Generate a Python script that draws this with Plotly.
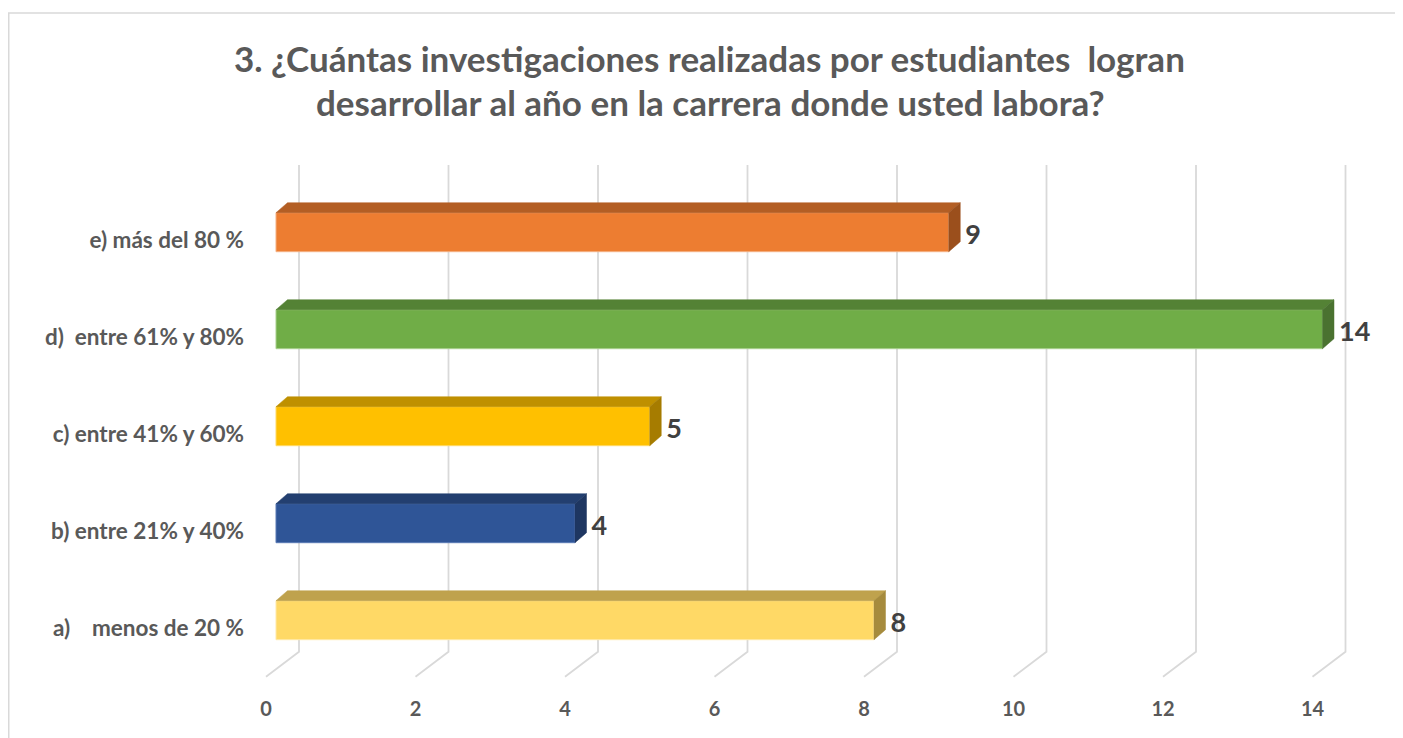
import plotly.graph_objects as go

# ---------------- data ----------------
categories = ["a)\u00a0\u00a0\u00a0\u00a0menos de 20 %", "b) entre 21% y 40%", "c) entre 41% y 60%",
              "d)\u00a0\u00a0entre 61% y 80%", "e) más del 80 %"]
values = [8, 4, 5, 14, 9]
x_ticks = [0, 2, 4, 6, 8, 10, 12, 14]
title_lines = ["3. ¿Cuántas investigaciones realizadas por estudiantes\u00a0\u00a0logran",
               "desarrollar al año en la carrera donde usted labora?"]

front_colors = ["#FFD966", "#2F5597", "#FFC000", "#70AD47", "#ED7D31"]
top_colors = ["#BFA24D", "#233F70", "#BF9000", "#548235", "#B35E24"]
side_colors = ["#A68B3D", "#1E3661", "#A67C00", "#4A7230", "#9B4F1C"]
edge_colors = ["#FFE9A8", "#5A7BB5", "#FFD966", "#A9D08E", "#F4B183"]

# ---------------- geometry ----------------
OFF = 8                      # page body margin
W, H = 1403 - OFF, 738 - OFF
PX_X = 74.75                 # px per x unit
PX_Y = 97.0                  # px per category
X0_PX = 276                  # screen px of x = 0 (front face)
Y0_PX = 620.2                # screen px of first category centre
X_RANGE = [-0.2, 15]
Y_RANGE = [-0.62, 4.72]


def rx(px):
    return (px - OFF) / W


def ry(py):
    return 1 - (py - OFF) / H


BAR_W = 0.402
DX = 11.5 / PX_X
DY = 10.0 / PX_Y
BACK_DX = 23 / PX_X
FRONT_DX = -10 / PX_X
GRID_TOP = (Y0_PX - 165) / PX_Y
FLOOR_BACK = (Y0_PX - 651.7) / PX_Y
FLOOR_FRONT = (Y0_PX - 676.7) / PX_Y
LABEL_GAP = 5 / PX_X
LABEL_DROP = 5 / PX_Y

x_left_px = X0_PX + X_RANGE[0] * PX_X
x_right_px = X0_PX + X_RANGE[1] * PX_X
y_bottom_px = Y0_PX - Y_RANGE[0] * PX_Y
y_top_px = Y0_PX - Y_RANGE[1] * PX_Y

FONT = "Lato"
fig = go.Figure()

# gridlines (back wall + floor) on the base subplot
gx, gy = [], []
for t in x_ticks:
    gx += [t + BACK_DX, t + BACK_DX, t + FRONT_DX, None]
    gy += [GRID_TOP, FLOOR_BACK, FLOOR_FRONT, None]
fig.add_trace(go.Scatter(x=gx, y=gy, mode="lines", line=dict(color="#D9D9D9", width=1.8),
                         hoverinfo="skip", xaxis="x", yaxis="y"))

ypos = list(range(len(categories)))

# front faces (overlay subplot, drawn above gridlines)
fig.add_trace(go.Bar(x=values, y=ypos, orientation="h", width=BAR_W, base=0,
                     marker=dict(color=front_colors, line=dict(color=edge_colors, width=1)),
                     hoverinfo="skip", xaxis="x2", yaxis="y2"))

# top and side faces
for i, v in enumerate(values):
    yt = i + BAR_W / 2
    yb = i - BAR_W / 2
    fig.add_trace(go.Scatter(x=[0, DX, v + DX, v, 0], y=[yt, yt + DY, yt + DY, yt, yt],
                             mode="lines", fill="toself", fillcolor=top_colors[i],
                             line=dict(width=0.5, color=top_colors[i]), hoverinfo="skip",
                             xaxis="x2", yaxis="y2"))
    fig.add_trace(go.Scatter(x=[v, v, v + DX, v + DX, v], y=[yb, yt, yt + DY, yb + DY, yb],
                             mode="lines", fill="toself", fillcolor=side_colors[i],
                             line=dict(width=0.5, color=side_colors[i]), hoverinfo="skip",
                             xaxis="x2", yaxis="y2"))

# value labels
fig.add_trace(go.Scatter(x=[v + DX + LABEL_GAP for v in values], y=[i - LABEL_DROP for i in ypos],
                         mode="text", text=[str(v) for v in values], textposition="middle right",
                         textfont=dict(family=FONT, size=27, color="#404040", weight="bold"),
                         cliponaxis=False, hoverinfo="skip", xaxis="x2", yaxis="y2"))

# title lines
for line, ypx in zip(title_lines, [58, 102]):
    fig.add_annotation(text=line, xref="paper", yref="paper", x=rx(710), y=ry(ypx),
                       xanchor="center", yanchor="middle", showarrow=False,
                       font=dict(family=FONT, size=35, color="#595959", weight="bold"))

# outer chart border
fig.add_shape(type="rect", xref="paper", yref="paper", x0=rx(8.75), x1=1.05, y0=-0.05, y1=ry(13),
              line=dict(color="#D9D9D9", width=1.5), fillcolor="rgba(0,0,0,0)", layer="below")

xdom = [rx(x_left_px), rx(x_right_px)]
ydom = [ry(y_bottom_px), ry(y_top_px)]

fig.update_layout(
    width=W, height=H, margin=dict(l=0, r=0, t=0, b=0),
    paper_bgcolor="white", plot_bgcolor="rgba(0,0,0,0)", showlegend=False,
    xaxis=dict(range=X_RANGE, domain=xdom, tickvals=x_ticks,
               showgrid=False, zeroline=False, showline=False, ticks="",
               ticklabelshift=-10, ticklabelstandoff=15, fixedrange=True,
               tickfont=dict(family=FONT, size=20, color="#595959", weight="bold")),
    yaxis=dict(range=Y_RANGE, domain=ydom, tickvals=ypos,
               ticktext=categories, showgrid=False, zeroline=False, showline=False, ticks="",
               ticklabelshift=8, ticklabelstandoff=16, fixedrange=True,
               tickfont=dict(family=FONT, size=22.5, color="#595959", weight="bold")),
    xaxis2=dict(range=X_RANGE, overlaying="x", anchor="y2", visible=False, fixedrange=True),
    yaxis2=dict(range=Y_RANGE, overlaying="y", anchor="x2", visible=False, fixedrange=True),
)

fig.write_html("out.html", config={"displayModeBar": False})
